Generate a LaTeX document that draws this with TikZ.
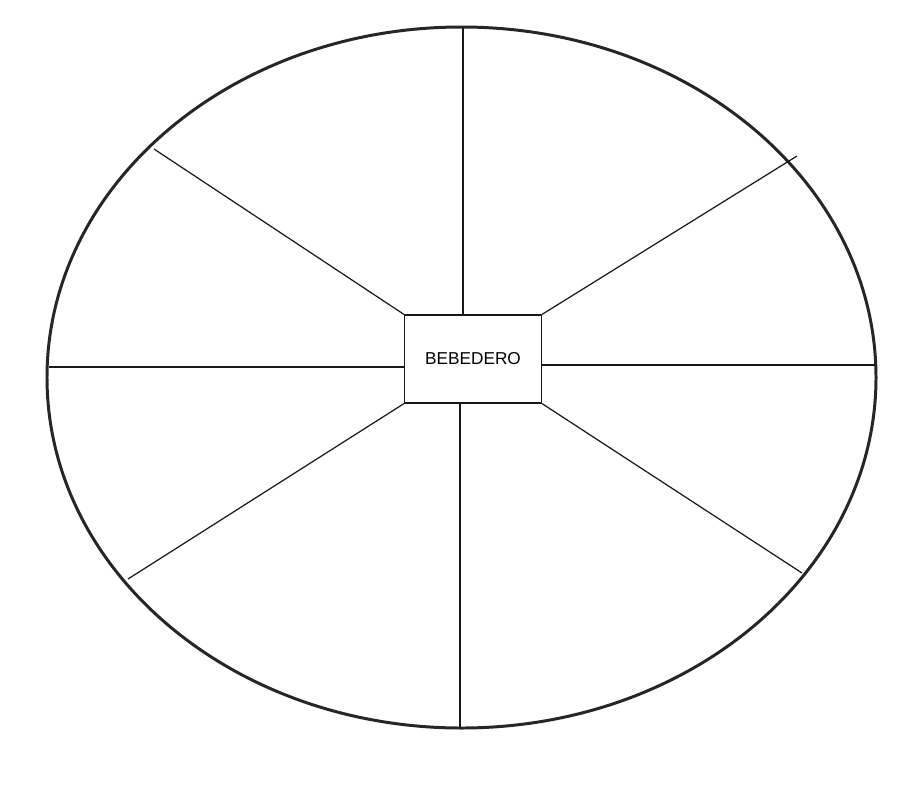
\documentclass[tikz,border=0pt]{standalone}
\usepackage{fontspec}
\newfontfamily\arialfont{Liberation Sans}

\begin{document}
\begin{tikzpicture}[x=0.02cm,y=-0.02cm,
    rim/.style={line width=1.7pt,black!85},
    spoke/.style={line width=0.7pt,black!90},
    trough/.style={draw=black!90,line width=0.8pt,fill=white,
      minimum width=2.74cm,minimum height=1.76cm,inner sep=0pt,
      font=\arialfont\fontsize{9.8}{12}\selectfont}]
  % page frame
  \useasboundingbox (0,0) rectangle (922,785);

  % outer paddock
  \draw[rim] (461.5,377.5) ellipse [x radius=414.5, y radius=350.5];

  % water trough in the middle
  \node[trough] (bebedero) at (473,359) {BEBEDERO};

  % fence ends on the rim
  \coordinate (top)   at (463,27);
  \coordinate (bot)   at (460,728);
  \coordinate (west)  at (49,367);
  \coordinate (east)  at (875,365);
  \coordinate (nw)    at (154,149);
  \coordinate (ne)    at (797,156);
  \coordinate (sw)    at (128,579);
  \coordinate (se)    at (802,573);

  % fences
  \draw[spoke] (top)  -- (top |- bebedero.north);
  \draw[spoke] (bot)  -- (bot |- bebedero.south);
  \draw[spoke] (west) -- (west -| bebedero.west);
  \draw[spoke] (east) -- (east -| bebedero.east);
  \draw[spoke] (nw)   -- (bebedero.north west);
  \draw[spoke] (ne)   -- (bebedero.north east);
  \draw[spoke] (sw)   -- (bebedero.south west);
  \draw[spoke] (se)   -- (bebedero.south east);
\end{tikzpicture}
\end{document}
